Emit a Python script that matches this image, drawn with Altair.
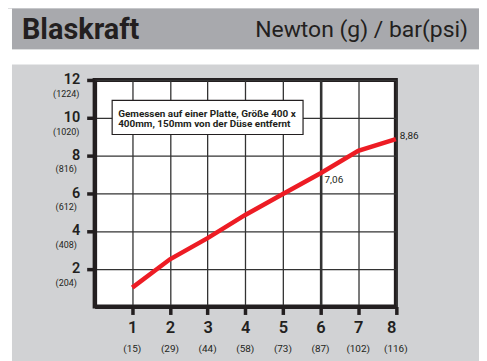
import altair as alt
import pandas as pd

# ---- data ----
pressure_bar = [1, 2, 3, 4, 5, 6, 7, 8]
force_newton = [1.0, 2.5, 3.62, 4.85, 5.96, 7.06, 8.24, 8.86]
x_sub_labels = ["(15)", "(29)", "(44)", "(58)", "(73)", "(87)", "(102)", "(116)"]
y_ticks = [2, 4, 6, 8, 10, 12]
y_sub_labels = ["(204)", "(408)", "(612)", "(816)", "(1020)", "(1224)"]
label_x = [6, 8]
label_y = [7.06, 8.86]
label_text = ["7,06", "8,86"]
title_left = "Blaskraft"
title_right = "Newton (g) / bar(psi)"
note_lines = ["Gemessen auf einer Platte, Größe 400 x", "400mm, 150mm von der Düse entfernt"]

FONT = "Roboto"
INK = "#231f20"
RED = "#ed1c24"
HEADER = "#a8a9ad"
PANEL = "#d1d2d4"

W, H = 302.5, 227.5

df = pd.DataFrame({"bar": pressure_bar, "force": force_newton})
df_x = pd.DataFrame({"bar": pressure_bar, "sub": x_sub_labels})
df_y = pd.DataFrame({"force": y_ticks, "sub": y_sub_labels})
df_lab = pd.DataFrame({"bar": label_x, "force": label_y, "t": label_text})
one = pd.DataFrame({"k": [0]})

xscale = alt.Scale(domain=[0, 8], nice=False, zero=True)
yscale = alt.Scale(domain=[0, 12], nice=False, zero=True)

xaxis = alt.Axis(
    values=pressure_bar, title=None, grid=True, gridColor="#333333",
    gridWidth={"condition": {"test": "datum.value === 6", "value": 2.6}, "value": 1.3},
    domain=True, domainColor=INK, domainWidth=4,
    ticks=True, tickColor=INK, tickWidth=3.5, tickSize=8,
    labelFont=FONT, labelFontSize=16.5, labelFontWeight=600, labelColor=INK,
    labelPadding=5,
)
yaxis = alt.Axis(
    values=y_ticks, title=None, grid=True, gridColor="#333333", gridWidth=1.3,
    domain=True, domainColor=INK, domainWidth=4,
    ticks=True, tickColor=INK, tickWidth=3.5, tickSize=8,
    labelFont=FONT, labelFontSize=14.5, labelFontWeight=600, labelColor=INK,
    labelPadding=7, labelBaseline="middle",
)

# decoration: header band and white gaps
header = alt.Chart(one).mark_rect(fill=HEADER).encode(
    x=alt.value(-83), x2=alt.value(386), y=alt.value(-71.5), y2=alt.value(-30.5))
gap = alt.Chart(one).mark_rect(fill="white").encode(
    x=alt.value(-87), x2=alt.value(386), y=alt.value(-30.5), y2=alt.value(-15.5))
left_strip = alt.Chart(one).mark_rect(fill="white").encode(
    x=alt.value(-87), x2=alt.value(-83), y=alt.value(-71.5), y2=alt.value(290))

t_left = alt.Chart(one).mark_text(
    text=title_left, font=FONT, fontSize=29, fontWeight="bold", color=INK,
    align="left", baseline="alphabetic").encode(x=alt.value(-73), y=alt.value(-41.2))
t_right = alt.Chart(one).mark_text(
    text=title_right, font=FONT, fontSize=23, color=INK,
    align="right", baseline="alphabetic").encode(x=alt.value(375), y=alt.value(-42.8))

line = alt.Chart(df).mark_line(color=RED, strokeWidth=4.5).encode(
    x=alt.X("bar:Q", scale=xscale, axis=xaxis),
    y=alt.Y("force:Q", scale=yscale, axis=yaxis),
)

box = alt.Chart(one).mark_rect(fill="white", stroke=INK, strokeWidth=1.2).encode(
    x=alt.value(17.6), x2=alt.value(209.3), y=alt.value(20.5), y2=alt.value(54.8))
note = alt.Chart(one).mark_text(
    text=note_lines, font=FONT, fontSize=10, fontWeight="bold", color=INK,
    align="left", baseline="middle", lineHeight=10.7).encode(
    x=alt.value(23.6), y=alt.value(33.8))

lab1 = alt.Chart(df_lab).transform_filter("datum.bar === 6").mark_text(
    font=FONT, fontSize=10, color=INK, align="left", baseline="middle", dx=4, dy=7
).encode(x=alt.X("bar:Q", scale=xscale), y=alt.Y("force:Q", scale=yscale), text="t:N")
lab2 = alt.Chart(df_lab).transform_filter("datum.bar === 8").mark_text(
    font=FONT, fontSize=10, color=INK, align="left", baseline="middle", dx=4, dy=-3
).encode(x=alt.X("bar:Q", scale=xscale), y=alt.Y("force:Q", scale=yscale), text="t:N")

xsub = alt.Chart(df_x).mark_text(
    font=FONT, fontSize=10, color=INK, align="center", baseline="middle"
).encode(x=alt.X("bar:Q", scale=xscale), y=alt.value(270.5), text="sub:N")
ysub = alt.Chart(df_y).mark_text(
    font=FONT, fontSize=9, color=INK, align="center", baseline="middle", dy=14
).encode(x=alt.value(-28.5), y=alt.Y("force:Q", scale=yscale), text="sub:N")

chart = alt.layer(
    header, gap, left_strip, t_left, t_right, line, box, note, lab1, lab2, xsub, ysub
).properties(
    width=W, height=H,
    autosize=alt.AutoSizeParams(type="none"),
    padding={"left": 87, "top": 71.5, "right": 83.5, "bottom": 54},
    background=PANEL,
).configure_view(
    fill="white", stroke=INK, strokeWidth=4
)

chart.save("out.html", embed_options={"renderer": "svg", "actions": False})
